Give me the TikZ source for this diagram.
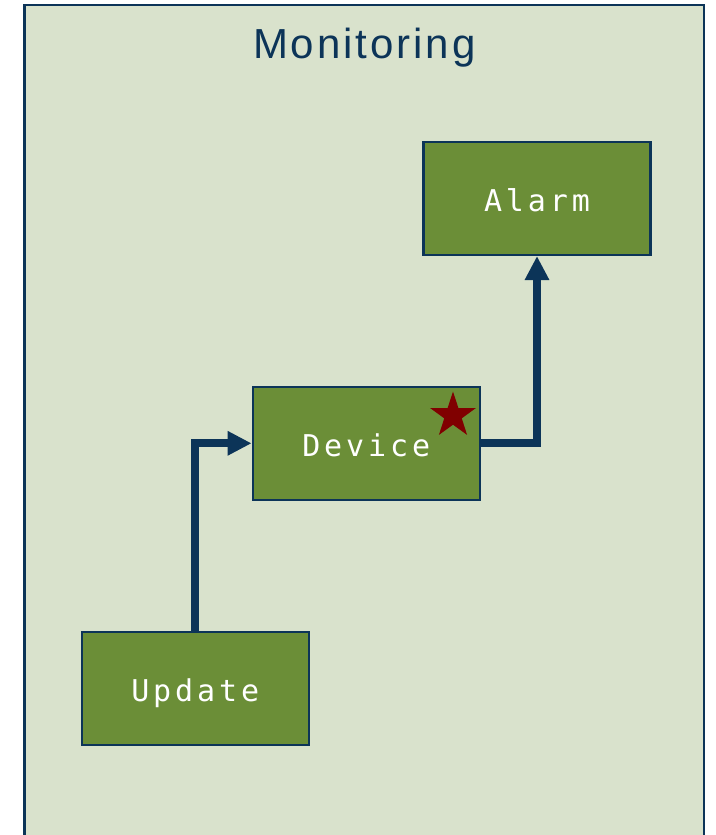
\documentclass[tikz,border=0pt]{standalone}
\usepackage{fontspec}
\setmainfont{Liberation Sans}
\newfontfamily\boxfont[LetterSpace=13]{DejaVu Sans Mono}
\newfontfamily\titlefont[LetterSpace=7]{Liberation Sans}
\usetikzlibrary{arrows.meta}
\definecolor{bgc}{RGB}{217,226,204}
\definecolor{navy}{RGB}{12,52,88}
\definecolor{boxg}{RGB}{107,142,55}
\definecolor{starred}{RGB}{128,0,0}
\begin{document}
\begin{tikzpicture}[x=1pt,y=-1pt,
  blk/.style={draw=navy, line width=2.2pt, fill=boxg, minimum width=227pt,
    minimum height=113.3pt, inner sep=0pt, text=white,
    font=\boxfont\fontsize{30}{30}\selectfont, text height=26.8pt, text depth=0pt},
  conn/.style={draw=navy, line width=8pt, miter limit=10,
    -{Triangle[width=23pt,length=24pt]}}]
\fill[white] (0,0) rectangle (715,835);
\useasboundingbox (0,0) rectangle (715,835);
\clip (0,0) rectangle (715,835);
\fill[bgc] (24.5,5) rectangle (704,860);
\draw[navy, line width=2.5pt] (24.5,5) rectangle (704,860);
\node[font=\titlefont\fontsize{42}{42}\selectfont, text=navy, anchor=base] (title) at (364.3,58.3) {Monitoring};
\node[blk] (alarm) at (537,198.3) {Alarm};
\node[blk] (device) at (366.2,443.3) {Device};
\node[blk] (update) at (195.2,688.5) {Update};
\draw[conn] (update.north) |- (device.west);
\draw[conn] (device.east) -| (alarm.south);
\begin{scope}[shift={(453,415.5)}]
\fill[starred] (90:24pt) -- (126:9.2pt) -- (162:24pt) -- (198:9.2pt) -- (234:24pt)
  -- (270:9.2pt) -- (306:24pt) -- (342:9.2pt) -- (18:24pt) -- (54:9.2pt) -- cycle;
\end{scope}
\end{tikzpicture}
\end{document}
